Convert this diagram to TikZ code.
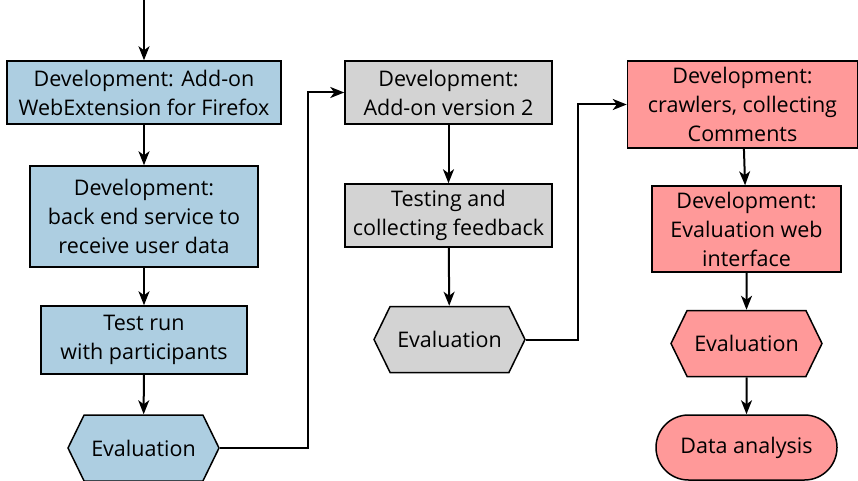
\documentclass[tikz,border=0pt]{standalone}
\usepackage{fontspec}
\setmainfont{Open Sans}
\usepackage{tikz}
\usetikzlibrary{arrows.meta}
\usetikzlibrary{positioning}
\usetikzlibrary{shapes.symbols,shapes.misc}
\definecolor{devblue}{RGB}{173,206,225}
\definecolor{devgray}{RGB}{211,211,211}
\definecolor{devred}{RGB}{255,153,153}
\tikzset{
  stepnode/.style = {rectangle, draw=black, line width=1.5pt, align=center,
    inner sep=0pt, font=\fontsize{21.5}{29}\selectfont},% work step
  evalnode/.style = {stepnode, signal, signal to=west and east,
    signal pointer angle=128, minimum width=151pt, minimum height=66pt},% evaluation
  endnode/.style = {stepnode, rounded rectangle, minimum width=181pt,
    minimum height=65pt}% final step
}

\begin{document}
\begin{tikzpicture}[x=1pt,y=-1pt,->,>={Stealth[length=14pt,width=11pt,inset=4pt]},
  line width=2pt]
\useasboundingbox (0,0) rectangle (858,481);
\coordinate (start) at (144,0);
% first round
\node [stepnode, fill=devblue, minimum width=274pt, minimum height=63pt] (a1) at (144,92.5)
  {Development: Add-on\\WebExtension for Firefox};
\node [stepnode, fill=devblue, minimum width=228pt, minimum height=101pt] (a2) at (144,216.5)
  {Development:\\back end service to\\receive user data};
\node [stepnode, fill=devblue, minimum width=206pt, minimum height=68pt] (a3) at (144,340)
  {Test run\\with participants};
\node [evalnode, fill=devblue] (a4) at (143.5,448) {Evaluation};
% second round
\node [stepnode, fill=devgray, minimum width=207pt, minimum height=63pt] (b1) at (448.5,92.5)
  {Development:\\Add-on version 2};
\node [stepnode, fill=devgray, minimum width=207pt, minimum height=63pt] (b2) at (448.5,215.5)
  {Testing and\\collecting feedback};
\node [evalnode, fill=devgray] (b3) at (449.5,339.5) {Evaluation};
% third round
\node [stepnode, fill=devred, minimum width=230pt, minimum height=87pt] (c1) at (742.5,104.5)
  {Development:\\crawlers, collecting\\Comments};
\node [stepnode, fill=devred, minimum width=189pt, minimum height=86pt] (c2) at (746.5,229)
  {Development:\\Evaluation web\\interface};
\node [evalnode, fill=devred] (c3) at (746.5,343.5) {Evaluation};
\node [endnode, fill=devred] (c4) at (746.5,447.5) {Data analysis};

\draw (start) -- (a1);
\draw (a1) -- (a2);
\draw (a2) -- (a3);
\draw (a3) -- (a4);
\draw (a4.east) -- ++(88,0) |- (b1.west);
\draw (b1) -- (b2);
\draw (b2) -- (b3);
\draw (b3.east) -- ++(52,0) |- (c1.west);
\draw (c1) -- (c2);
\draw (c2) -- (c3);
\draw (c3) -- (c4);
\end{tikzpicture}
\end{document}
